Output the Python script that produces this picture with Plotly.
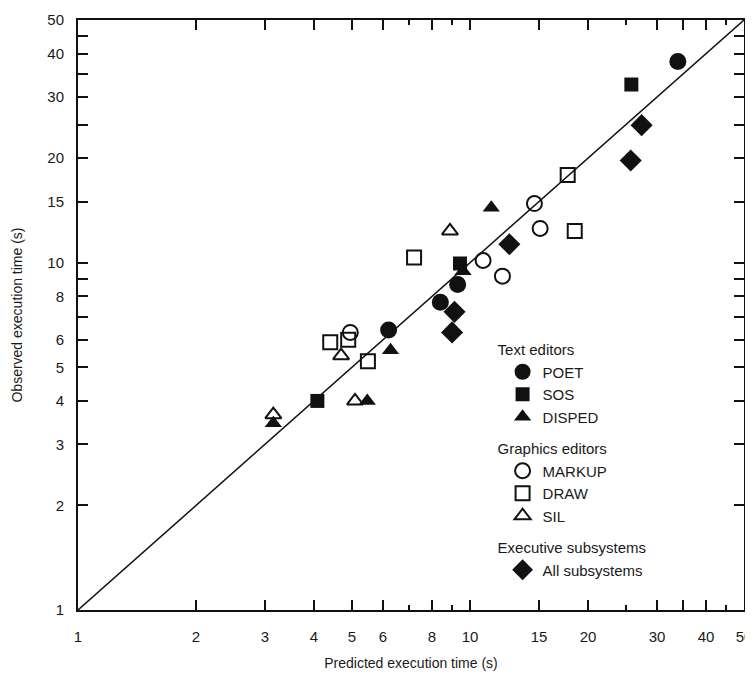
import plotly.graph_objects as go

# Data (predicted, observed) in seconds
poet_x = [6.2, 8.4, 9.3, 33.9]
poet_y = [6.4, 7.7, 8.65, 38.0]

sos_x = [4.08, 9.43, 25.8]
sos_y = [4.0, 9.95, 32.6]

disped_x = [3.15, 5.47, 6.27, 9.6, 11.33]
disped_y = [3.45, 4.0, 5.6, 9.45, 14.4]

markup_x = [4.95, 10.8, 12.1, 14.6, 15.1]
markup_y = [6.3, 10.15, 9.15, 14.8, 12.55]

draw_x = [4.4, 4.89, 5.49, 7.2, 17.75, 18.5]
draw_y = [5.9, 6.0, 5.2, 10.35, 17.9, 12.35]

sil_x = [3.15, 4.69, 5.09, 8.89]
sil_y = [3.65, 5.4, 4.0, 12.35]

exec_x = [9.0, 9.13, 12.6, 25.7, 27.4]
exec_y = [6.3, 7.22, 11.3, 19.7, 24.9]

diag = [1, 50]

major_ticks = [1, 2, 3, 4, 5, 6, 8, 10, 15, 20, 30, 35, 40, 50]
major_labels = ["1", "2", "3", "4", "5", "6", "8", "10", "15", "20", "30", "", "40", "50"]
y_ticks = [1, 2, 3, 4, 5, 6, 7, 8, 9, 10, 15, 20, 25, 30, 35, 40, 45, 50]
y_labels = ["1", "2", "3", "4", "5", "6", "", "8", "", "10", "15", "20", "", "30", "", "40", "", "50"]
x_minor = [7, 9, 25, 45]

FONT = "Liberation Sans, Arial, sans-serif"
INK = "#111111"
TXT = "#1a1a1a"

fig = go.Figure()

fig.add_trace(go.Scatter(x=diag, y=diag, mode="lines",
                         line=dict(color=INK, width=1.5),
                         showlegend=False, hoverinfo="skip"))

def add(name, xs, ys, symbol, size, group, gtitle):
    fig.add_trace(go.Scatter(
        x=xs, y=ys, mode="markers", name=name,
        marker=dict(symbol=symbol, size=size, color=INK,
                    line=dict(color=INK, width=2 if "open" in symbol else 0)),
        legendgroup=group,
        legendgrouptitle=dict(text=gtitle, font=dict(size=15, family=FONT, color=TXT)),
    ))

add("POET", poet_x, poet_y, "circle", 17, "text", "Text editors")
add("SOS", sos_x, sos_y, "square", 14, "text", "Text editors")
add("DISPED", disped_x, disped_y, "triangle-up", 15, "text", "Text editors")
add("MARKUP", markup_x, markup_y, "circle-open", 15, "graph", "Graphics editors")
add("DRAW", draw_x, draw_y, "square-open", 14, "graph", "Graphics editors")
add("SIL", sil_x, sil_y, "triangle-up-open", 14, "graph", "Graphics editors")
add("All subsystems", exec_x, exec_y, "diamond", 17, "exec", "Executive subsystems")

axis_common = dict(
    type="log", showgrid=False, zeroline=False, automargin=False,
    showline=True, linecolor=INK, linewidth=2, mirror="ticks",
    ticks="inside", ticklen=10, tickwidth=2, tickcolor=INK,
    tickfont=dict(size=15, family=FONT, color=TXT),
    range=[0, 1.69897],
)

fig.update_xaxes(**axis_common, tickvals=major_ticks, ticktext=major_labels,
                 ticklabelstandoff=12,
                 minor=dict(tickvals=x_minor, ticks="inside", ticklen=5, tickwidth=2, tickcolor=INK),
                 title=dict(text="Predicted execution time (s)", font=dict(size=14, family=FONT, color=TXT), standoff=14))
fig.update_yaxes(**axis_common, tickvals=y_ticks, ticktext=y_labels,
                 ticklabelstandoff=9,
                 title=dict(text="Observed execution time (s)", font=dict(size=14, family=FONT, color=TXT), standoff=21))

fig.update_layout(
    width=753, height=680,
    margin=dict(l=70, r=17, t=12, b=78, autoexpand=False),
    paper_bgcolor="white", plot_bgcolor="white",
    font=dict(family=FONT, color=TXT),
    legend=dict(x=0.6225, y=0.4695, xanchor="left", yanchor="top",
                bgcolor="rgba(0,0,0,0)", borderwidth=0,
                font=dict(size=15, family=FONT, color=TXT),
                tracegroupgap=9, itemsizing="trace", indentation=10),
)

fig.write_html("out.html")
